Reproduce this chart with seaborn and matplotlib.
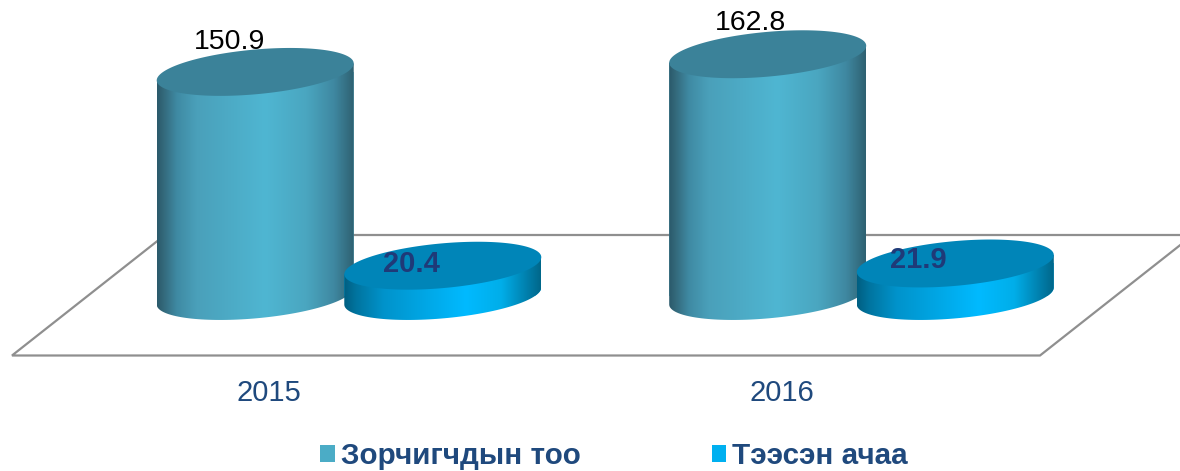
import matplotlib
matplotlib.use("Agg")
import matplotlib.pyplot as plt
import numpy as np
import pandas as pd
import seaborn as sns
from matplotlib.colors import LinearSegmentedColormap
from matplotlib.patches import Polygon

years = ["2015", "2016"]
series_names = ["Зорчигчдын тоо", "Тээсэн ачаа"]
passengers = [150.9, 162.8]
cargo = [20.4, 21.9]

W, H = 1180, 471
PX_PER_UNIT = 1.485
PX_PER_YEAR = 512.5
TILT = 8.5 / PX_PER_UNIT
SEMI = 22.4 / PX_PER_UNIT
NAVY = "#1f497d"

df = pd.DataFrame({
    "year": years * 2,
    "series": [series_names[0]] * 2 + [series_names[1]] * 2,
    "value": passengers + cargo,
})

sns.set_theme(style="white")
plt.rcParams["font.family"] = ["Liberation Sans", "DejaVu Sans"]

fig = plt.figure(figsize=(W / 100, H / 100), dpi=100)
ax_bottom = 362
ax = fig.add_axes([0, (H - ax_bottom) / H, 1, ax_bottom / H])
ax.patch.set_alpha(0)

sns.barplot(data=df, x="year", y="value", hue="series", hue_order=series_names,
            palette=["#4bacc6", "#00b0f0"], width=0.732, saturation=1, linewidth=0,
            order=years, ax=ax, zorder=3)

xlim = (-349 / PX_PER_YEAR, (W - 349) / PX_PER_YEAR)
ylim = (-(ax_bottom - 296) / PX_PER_UNIT, 296 / PX_PER_UNIT)

# floor of the 3D plot, figure pixels
floor = [(165, 235), (12, 355.5), (1040, 355.5), (1193, 235), (165, 235)]
ax.plot([p[0] / W for p in floor], [1 - p[1] / H for p in floor], color="#8f8f8f", lw=1.6,
        transform=fig.transFigure, zorder=1, solid_joinstyle="miter")

body_maps = [
    LinearSegmentedColormap.from_list("a", [(0, "#2b5a6b"), (0.03, "#33687a"), (0.1, "#3f8aa3"), (0.2, "#4aa0ba"),
                                            (0.55, "#4fb6d2"), (0.76, "#4aa6c0"), (0.9, "#3f88a1"), (1, "#2f6172")]),
    LinearSegmentedColormap.from_list("b", [(0, "#005f82"), (0.06, "#00749f"), (0.2, "#0093cb"),
                                            (0.62, "#00baff"), (0.8, "#00aee9"), (0.93, "#007fac"), (1, "#00678a")]),
]
top_colors = ["#3b8299", "#0085b8"]
# label shift from the top of each bar, pixels
label_dx = [[-26, -17], [-31, -37]]
label_dy = [30, 31], [2, 3]
label_style = [dict(color="black", fontsize=20.5), dict(color="#1f3a78", fontsize=21, fontweight="bold")]

t = np.linspace(0, 2 * np.pi, 200)
for s, container in enumerate(ax.containers):
    for c, bar in enumerate(container):
        cx = bar.get_x() + bar.get_width() / 2
        hw = 98.5 / PX_PER_YEAR
        bar.set_x(cx - hw)
        bar.set_width(2 * hw)
        value = bar.get_height()
        z = 3 + s * 2 + c * 4

        low = np.linspace(0, -np.pi, 80)
        outline = np.column_stack([
            np.r_[cx + hw * np.cos(low), cx - hw, cx + hw],
            np.r_[TILT * np.cos(low) + SEMI * np.sin(low), value - TILT, value + TILT],
        ])
        clip = Polygon(outline, transform=ax.transData)
        bar.set_zorder(z)
        bar.set_clip_path(clip)
        im = ax.imshow(np.linspace(0, 1, 256)[None, :], cmap=body_maps[s], vmin=0, vmax=1, aspect="auto",
                       extent=[cx - hw, cx + hw, -40, value + 20], zorder=z + 0.1, interpolation="bilinear")
        im.set_clip_path(clip)
        top = np.column_stack([cx + hw * np.cos(t), value + TILT * np.cos(t) + SEMI * np.sin(t)])
        ax.add_patch(Polygon(top, closed=True, facecolor=top_colors[s], edgecolor="none", zorder=z + 0.2))

        ax.text(cx + label_dx[s][c] / PX_PER_YEAR, value + label_dy[s][c] / PX_PER_UNIT, f"{value:.1f}",
                ha="center", va="center", zorder=30, **label_style[s])

ax.set_xlim(*xlim)
ax.set_ylim(*ylim)
ax.set_xticks(np.arange(len(years)) - 80 / PX_PER_YEAR)
ax.set_xticklabels(years, fontsize=21, color=NAVY)
ax.tick_params(axis="x", length=0, pad=12)
ax.set_yticks([])
ax.set_xlabel("")
ax.set_ylabel("")
sns.despine(ax=ax, left=True, bottom=True)

sns.move_legend(ax, "lower left", bbox_to_anchor=(320 / W, 1 - 470 / H), bbox_transform=fig.transFigure,
                ncol=2, frameon=False, title=None, borderpad=0, borderaxespad=0,
                handlelength=0.5, handleheight=0.5, handletextpad=0.2, columnspacing=4.43,
                labelcolor=NAVY, prop={"weight": "bold", "size": 21.3})

fig.savefig("out.png", dpi=100)
